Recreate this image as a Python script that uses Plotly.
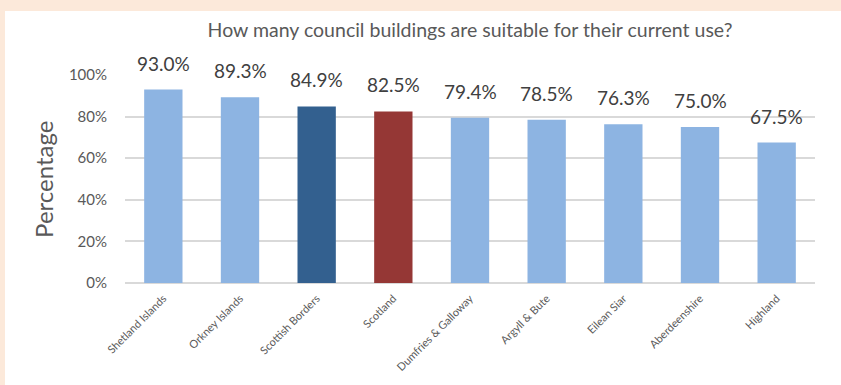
import plotly.graph_objects as go

categories = ["Shetland Islands", "Orkney Islands", "Scottish Borders", "Scotland",
              "Dumfries & Galloway", "Argyll & Bute", "Eilean Siar", "Aberdeenshire", "Highland"]
values = [93.0, 89.3, 84.9, 82.5, 79.4, 78.5, 76.3, 75.0, 67.5]
bar_colors = ["#8DB4E2", "#8DB4E2", "#33608F", "#953735", "#8DB4E2", "#8DB4E2",
              "#8DB4E2", "#8DB4E2", "#8DB4E2"]
tick_vals = [0, 20, 40, 60, 80, 100]
tick_text = ["0%", "20%", "40%", "60%", "80%", "100%"]

FONT = "Lato, Open Sans, sans-serif"

fig = go.Figure()
fig.add_trace(go.Bar(x=categories, y=values, marker=dict(color=bar_colors, line=dict(width=0)),
                     hoverinfo="skip"))

for c, v in zip(categories, values):
    fig.add_annotation(x=c, y=v, text=f"{v:.1f}%", showarrow=False, yanchor="bottom",
                       yshift=13, font=dict(size=19, color="#404040", family=FONT))

fig.add_annotation(x=-0.119, y=0.5, xref="paper", yref="paper", text="Percentage",
                   xanchor="center", yanchor="middle",
                   textangle=-90, showarrow=False, font=dict(size=24, color="#595959", family=FONT))

fig.add_shape(type="rect", xref="paper", yref="paper", x0=-0.1739, x1=1.05, y0=-0.5, y1=1.3077,
              fillcolor="white", line=dict(width=0), layer="below")

fig.update_layout(
    width=841, height=385,
    margin=dict(l=125, r=26, t=75, b=102),
    paper_bgcolor="#FCE9DA",
    plot_bgcolor="rgba(0,0,0,0)",
    bargap=0.5,
    showlegend=False,
    title=dict(text="How many council buildings are suitable for their current use?",
               x=0.5, xref="paper", y=1 - 30 / 385, yref="container", yanchor="middle",
               font=dict(size=19.5, color="#595959", family=FONT)),
    xaxis=dict(tickangle=-45, tickfont=dict(size=11, color="#595959", family=FONT),
               showgrid=False, showline=False, ticks="", ticklabelstandoff=6),
    yaxis=dict(range=[0, 100], tickvals=tick_vals, ticktext=tick_text,
               tickfont=dict(size=15, color="#595959", family=FONT),
               showgrid=True, gridcolor="#D9D9D9", gridwidth=1.5, zeroline=True,
               zerolinecolor="#D9D9D9", zerolinewidth=1.5, ticks="", ticklabelstandoff=17),
)

fig.write_html("out.html")
